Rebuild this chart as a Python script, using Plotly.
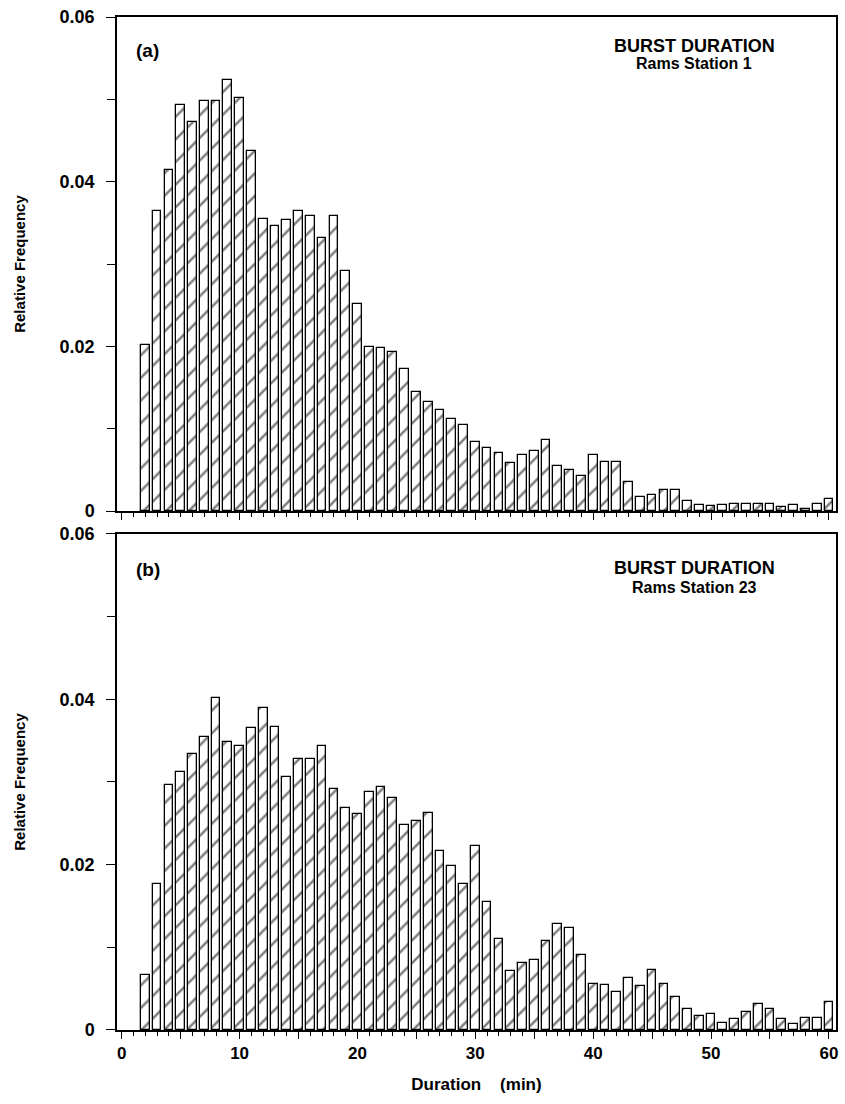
import plotly.graph_objects as go

# ---- data ----
minutes = list(range(2, 61))
rel_freq_station1 = [
    0.0202, 0.0364, 0.0414, 0.0493, 0.0472, 0.0498, 0.0498, 0.0524, 0.0502, 0.0437,
    0.0355, 0.0346, 0.0353, 0.0364, 0.0358, 0.0332, 0.0358, 0.0292, 0.0251, 0.0199,
    0.0198, 0.0193, 0.0173, 0.0144, 0.0133, 0.0123, 0.0112, 0.0104, 0.0084, 0.0076,
    0.0070, 0.0058, 0.0068, 0.0073, 0.0086, 0.0055, 0.0050, 0.0042, 0.0068, 0.0059,
    0.0059, 0.0035, 0.0017, 0.0020, 0.0025, 0.0025, 0.0012, 0.0007, 0.0006, 0.0007,
    0.0009, 0.0009, 0.0009, 0.0009, 0.0005, 0.0007, 0.0002, 0.0008, 0.0015,
]
rel_freq_station23 = [
    0.0067, 0.0177, 0.0297, 0.0312, 0.0334, 0.0355, 0.0402, 0.0349, 0.0343, 0.0365,
    0.0390, 0.0367, 0.0306, 0.0328, 0.0328, 0.0343, 0.0291, 0.0269, 0.0261, 0.0288,
    0.0294, 0.0281, 0.0248, 0.0253, 0.0263, 0.0216, 0.0198, 0.0177, 0.0223, 0.0155,
    0.0110, 0.0072, 0.0081, 0.0085, 0.0108, 0.0128, 0.0124, 0.0091, 0.0056, 0.0055,
    0.0046, 0.0063, 0.0053, 0.0073, 0.0056, 0.0040, 0.0025, 0.0017, 0.0019, 0.0009,
    0.0013, 0.0022, 0.0032, 0.0025, 0.0013, 0.0007, 0.0014, 0.0014, 0.0034,
]
x_tick_vals = list(range(0, 61, 5))
x_tick_text = ["0", "", "10", "", "20", "", "30", "", "40", "", "50", "", "60"]
y_tick_vals = [0, 0.02, 0.04, 0.06]
y_tick_text = ["0", "0.02", "0.04", "0.06"]
panel_labels = ["(a)", "(b)"]
titles = ["BURST DURATION", "BURST DURATION"]
subtitles = ["Rams Station 1", "Rams Station 23"]

# ---- layout geometry (pixels) ----
W, H = 845, 1104
L, R = 117, 838
TOP_A, BOT_A = 13, 509
TOP_B, BOT_B = 532, 1030
plot_h = BOT_B - TOP_A

def ydom(top, bot):
    return [(BOT_B - bot) / plot_h, (BOT_B - top) / plot_h]

FONT = "Liberation Sans, Arial, Helvetica, sans-serif"

fig = go.Figure()
for i, vals in enumerate([rel_freq_station1, rel_freq_station23]):
    sfx = "" if i == 0 else "2"
    fig.add_trace(go.Bar(
        x=minutes, y=vals, width=0.74,
        xaxis="x" + sfx, yaxis="y" + sfx,
        marker=dict(
            color="white",
            line=dict(color="black", width=1.3),
            pattern=dict(shape="/", fgcolor="black", bgcolor="white",
                         size=16, solidity=0.16),
        ),
        showlegend=False,
    ))

def xaxis_cfg(show_labels, anchor):
    return dict(
        range=[-0.4, 60.6], anchor=anchor, domain=[0, 1],
        showline=True, linecolor="black", linewidth=1.5, mirror=True,
        showgrid=False, zeroline=False,
        tickmode="array", tickvals=x_tick_vals, ticktext=x_tick_text,
        ticks="outside", ticklen=7, tickwidth=1.2, tickcolor="black",
        minor=dict(dtick=1, ticks="outside", ticklen=4, tickwidth=1, tickcolor="black"),
        showticklabels=show_labels,
        tickfont=dict(family=FONT, size=17, color="black", weight="bold"),
    )

def yaxis_cfg(dom, anchor):
    return dict(
        range=[0, 0.06], domain=dom, anchor=anchor,
        showline=True, linecolor="black", linewidth=1.5, mirror=True,
        showgrid=False, zeroline=False,
        tickmode="array", tickvals=y_tick_vals, ticktext=y_tick_text,
        ticks="outside", ticklen=9, tickwidth=1.2, tickcolor="black",
        ticklabelstandoff=8,
        minor=dict(dtick=0.01, ticks="outside", ticklen=8, tickwidth=1, tickcolor="black"),
        tickfont=dict(family=FONT, size=18, color="black", weight="bold"),
        title=dict(text="Relative Frequency", standoff=30,
                   font=dict(family=FONT, size=15, color="black", weight="bold")),
    )

xa = xaxis_cfg(False, "y")
xb = xaxis_cfg(True, "y2")
xb["title"] = dict(text="Duration\u00a0\u00a0\u00a0\u00a0(min)", standoff=16,
                   font=dict(family=FONT, size=17, color="black", weight="bold"))

annotations = []
panels = [(TOP_A, BOT_A, "x domain", "y domain", 29, 47, 34),
          (TOP_B, BOT_B, "x2 domain", "y2 domain", 34, 54, 36)]
for i, (top, bot, xr, yr, t_off, s_off, l_off) in enumerate(panels):
    h = bot - top
    cx = (696 - L) / (R - L)
    annotations.append(dict(text=titles[i], xref=xr, yref=yr, x=cx, y=1 - t_off / h,
                            showarrow=False, xanchor="center", yanchor="middle",
                            font=dict(family=FONT, size=18, color="black", weight="bold")))
    annotations.append(dict(text=subtitles[i], xref=xr, yref=yr, x=cx, y=1 - s_off / h,
                            showarrow=False, xanchor="center", yanchor="middle",
                            font=dict(family=FONT, size=16, color="black", weight="bold")))
    annotations.append(dict(text=panel_labels[i], xref=xr, yref=yr, x=(148 - L) / (R - L),
                            y=1 - l_off / h, showarrow=False, xanchor="center", yanchor="middle",
                            font=dict(family=FONT, size=19, color="black", weight="bold")))

fig.update_layout(
    width=W, height=H,
    margin=dict(l=L, r=W - R, t=TOP_A, b=H - BOT_B, pad=0),
    paper_bgcolor="white", plot_bgcolor="white",
    bargap=0,
    xaxis=xa, xaxis2=xb,
    yaxis=yaxis_cfg(ydom(TOP_A, BOT_A), "x"),
    yaxis2=yaxis_cfg(ydom(TOP_B, BOT_B), "x2"),
    annotations=annotations,
    font=dict(family=FONT, color="black"),
)

fig.write_html(
    "out.html",
    config={"displayModeBar": False},
    post_script="document.body.style.margin='0';document.body.style.overflow='hidden';",
)
